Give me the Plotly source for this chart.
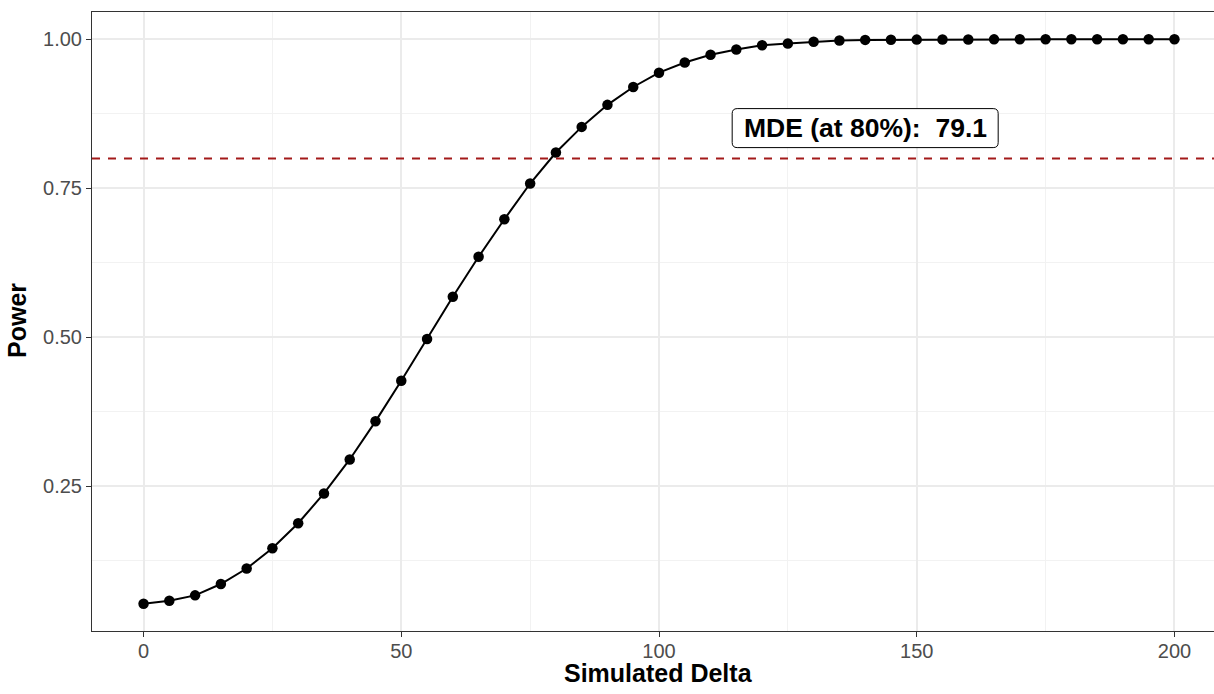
import plotly.graph_objects as go

# simulated effect sizes and estimated power
delta = [0, 5, 10, 15, 20, 25, 30, 35, 40, 45, 50, 55, 60, 65, 70, 75, 80, 85, 90, 95, 100,
         105, 110, 115, 120, 125, 130, 135, 140, 145, 150, 155, 160, 165, 170, 175, 180,
         185, 190, 195, 200]
power = [0.053, 0.058, 0.067, 0.086, 0.112, 0.146, 0.188, 0.238, 0.295, 0.359, 0.427,
         0.497, 0.568, 0.635, 0.698, 0.758, 0.810, 0.853, 0.890, 0.920, 0.944,
         0.961, 0.974, 0.983, 0.990, 0.993, 0.996, 0.998, 0.999, 0.9993, 0.9995, 0.9997,
         0.9998, 0.9999, 1.0, 1.0, 1.0, 1.0, 1.0, 1.0, 1.0]
target_power = 0.8
mde = 79.1
label_pos = (140, 0.851)

x_ticks = [0, 50, 100, 150, 200]
x_minor = [25, 75, 125, 175]
y_ticks = [0.25, 0.50, 0.75, 1.00]
y_minor = [0.125, 0.375, 0.625, 0.875]

font = "Liberation Sans, Arial, sans-serif"

fig = go.Figure()
fig.add_trace(go.Scatter(
    x=delta, y=power, mode="lines+markers",
    line=dict(color="black", width=2),
    marker=dict(color="black", size=10.5),
    showlegend=False))

# power target line
fig.add_hline(y=target_power, line=dict(color="#A31A1A", width=2, dash="8px,8px"))

# rounded label box (ggplot geom_label look), sized in pixels around the label point
w, h, r = 133, 19.5, 5
box = (f"M {-w + r},{-h} L {w - r},{-h} Q {w},{-h} {w},{-h + r} L {w},{h - r} Q {w},{h} {w - r},{h} "
       f"L {-w + r},{h} Q {-w},{h} {-w},{h - r} L {-w},{-h + r} Q {-w},{-h} {-w + r},{-h} Z")
fig.add_shape(type="path", path=box, xsizemode="pixel", ysizemode="pixel",
              xanchor=label_pos[0], yanchor=label_pos[1], xref="x", yref="y",
              fillcolor="white", line=dict(color="black", width=1), layer="above")

fig.add_annotation(
    x=label_pos[0], y=label_pos[1],
    text="<b>MDE (at 80%):\u00a0 " + f"{mde:.1f}" + "</b>",
    showarrow=False, font=dict(family=font, size=26.5, color="black"))

# axis titles (paper coords are relative to the plot panel: left 92px, width 1134px, bottom 631px, height 619px)
fig.add_annotation(x=(658.5 - 92) / 1134, y=(631 - 673) / 619, xref="paper", yref="paper",
                   xanchor="center", yanchor="middle", showarrow=False,
                   text="<b>Simulated Delta</b>", font=dict(family=font, size=25, color="black"))
fig.add_annotation(x=(17 - 92) / 1134, y=(631 - 321) / 619, xref="paper", yref="paper",
                   xanchor="center", yanchor="middle", showarrow=False, textangle=-90,
                   text="<b>Power</b>", font=dict(family=font, size=25, color="black"))

axis_common = dict(
    showgrid=True, gridcolor="#EBEBEB", gridwidth=2, automargin=False,
    zeroline=False, ticks="outside", ticklen=5, tickcolor="#333333", tickwidth=1,
    tickfont=dict(family=font, size=20, color="#4D4D4D"),
    linecolor="#333333", linewidth=1, showline=True)

fig.update_xaxes(
    range=[-10, 210], tickmode="array", tickvals=x_ticks, ticklabelstandoff=-3,
    minor=dict(tickmode="array", tickvals=x_minor, showgrid=True, gridcolor="#F2F2F2", gridwidth=1, ticks=""),
    mirror=True, **axis_common)
fig.update_yaxes(
    range=[0.0072, 1.0458], tickmode="array", tickvals=y_ticks, tickformat=".2f",
    minor=dict(tickmode="array", tickvals=y_minor, showgrid=True, gridcolor="#F2F2F2", gridwidth=1, ticks=""),
    **axis_common)

# panel runs past the right edge of the window, as in the cropped reference
fig.update_layout(
    width=1226, height=694,
    margin=dict(l=92, r=0, t=12, b=63),
    plot_bgcolor="white", paper_bgcolor="white",
    font=dict(family=font))

fig.write_html("out.html", config={"displayModeBar": False},
               post_script="document.body.style.margin='0';document.body.style.overflow='hidden';")
